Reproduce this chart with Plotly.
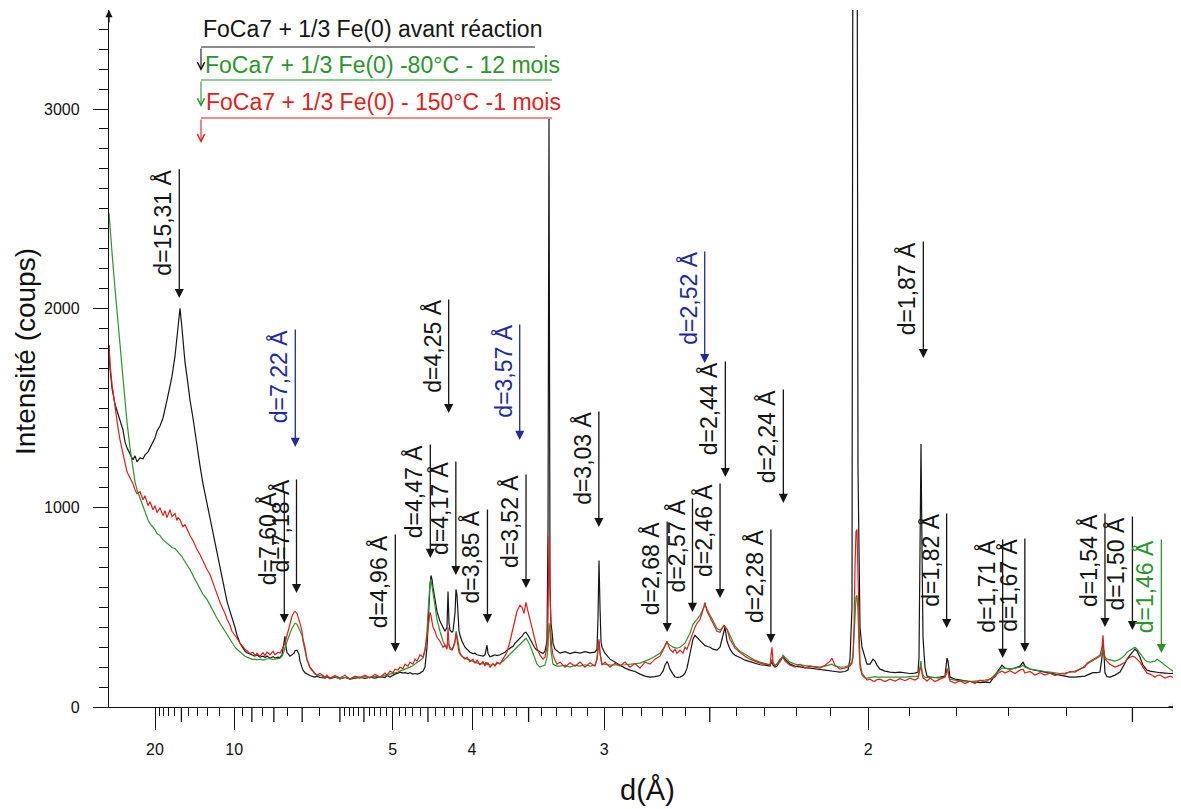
import plotly.graph_objects as go

# ---------------- data ----------------
# x = 1/d (1/Å); the axis is labelled in d (Å)
inv_d = [0.02098, 0.02161, 0.02287, 0.02476, 0.02666, 0.02792, 0.02981, 0.03107, 0.03233, 0.03423,
         0.03612, 0.03738, 0.03864, 0.04054, 0.04243, 0.04369, 0.04558, 0.04685, 0.04874, 0.05000,
         0.05126, 0.05315, 0.05505, 0.05631, 0.05757, 0.05946, 0.06073, 0.06262, 0.06388, 0.06451,
         0.06577, 0.06703, 0.06767, 0.06893, 0.07082, 0.07208, 0.07397, 0.07524, 0.07650, 0.07839,
         0.08028, 0.08281, 0.08470, 0.08659, 0.08785, 0.08912, 0.09101, 0.09290, 0.09416, 0.09543,
         0.09732, 0.09858, 0.10047, 0.10174, 0.10363, 0.10552, 0.10678, 0.10804, 0.10994, 0.11183,
         0.11309, 0.11435, 0.11625, 0.11814, 0.11940, 0.12066, 0.12256, 0.12445, 0.12571, 0.12760,
         0.12886, 0.13013, 0.13076, 0.13139, 0.13202, 0.13265, 0.13328, 0.13391, 0.13517, 0.13644,
         0.13770, 0.13833, 0.13959, 0.14085, 0.14148, 0.14274, 0.14338, 0.14464, 0.14590, 0.14779,
         0.14968, 0.15095, 0.15221, 0.15410, 0.15726, 0.15852, 0.16041, 0.16356, 0.16672, 0.16987,
         0.17303, 0.17618, 0.17934, 0.18249, 0.18565, 0.18880, 0.19196, 0.19511, 0.19637, 0.19826,
         0.20016, 0.20142, 0.20331, 0.20457, 0.20647, 0.20773, 0.20962, 0.21088, 0.21278, 0.21404,
         0.21530, 0.21719, 0.21909, 0.22035, 0.22161, 0.22224, 0.22287, 0.22350, 0.22413, 0.22476,
         0.22539, 0.22666, 0.22792, 0.22981, 0.23170, 0.23297, 0.23423, 0.23486, 0.23549, 0.23612,
         0.23738, 0.23801, 0.23927, 0.23991, 0.24054, 0.24117, 0.24180, 0.24243, 0.24369, 0.24558,
         0.24685, 0.24874, 0.25063, 0.25189, 0.25315, 0.25505, 0.25694, 0.25820, 0.25883, 0.25946,
         0.26009, 0.26136, 0.26325, 0.26451, 0.26577, 0.26767, 0.26956, 0.27082, 0.27208, 0.27397,
         0.27587, 0.27713, 0.27839, 0.28028, 0.28155, 0.28281, 0.28407, 0.28533, 0.28659, 0.28849,
         0.28975, 0.29101, 0.29290, 0.29479, 0.29606, 0.29732, 0.29795, 0.29858, 0.29921, 0.29984,
         0.30047, 0.30110, 0.30237, 0.30363, 0.30552, 0.30868, 0.31183, 0.31498, 0.31814, 0.32129,
         0.32445, 0.32760, 0.32886, 0.32950, 0.33013, 0.33076, 0.33139, 0.33202, 0.33391, 0.33707,
         0.34022, 0.34338, 0.34653, 0.34968, 0.35284, 0.35599, 0.35915, 0.36230, 0.36546, 0.36861,
         0.37050, 0.37177, 0.37303, 0.37366, 0.37492, 0.37681, 0.37808, 0.37934, 0.38123, 0.38312,
         0.38438, 0.38565, 0.38754, 0.38943, 0.39069, 0.39196, 0.39385, 0.39511, 0.39637, 0.39700,
         0.39826, 0.40016, 0.40205, 0.40331, 0.40457, 0.40647, 0.40773, 0.40899, 0.40962, 0.41088,
         0.41278, 0.41467, 0.41593, 0.41909, 0.42224, 0.42539, 0.42855, 0.43170, 0.43486, 0.43801,
         0.43927, 0.43991, 0.44117, 0.44243, 0.44432, 0.44621, 0.44748, 0.45063, 0.45379, 0.45694,
         0.46009, 0.46325, 0.46640, 0.46956, 0.47271, 0.47587, 0.47713, 0.47902, 0.48218, 0.48533,
         0.48722, 0.48849, 0.48975, 0.49038, 0.49101, 0.49164, 0.49227, 0.49290, 0.49353, 0.49416,
         0.49479, 0.49606, 0.49795, 0.49921, 0.50110, 0.50300, 0.50426, 0.50552, 0.50741, 0.51057,
         0.51372, 0.51688, 0.52003, 0.52319, 0.52634, 0.52950, 0.53139, 0.53202, 0.53265, 0.53328,
         0.53391, 0.53454, 0.53580, 0.53707, 0.53896, 0.54211, 0.54527, 0.54842, 0.54905, 0.54968,
         0.55032, 0.55095, 0.55158, 0.55473, 0.55789, 0.56104, 0.56420, 0.56735, 0.57050, 0.57366,
         0.57681, 0.57997, 0.58123, 0.58312, 0.58438, 0.58628, 0.58943, 0.59259, 0.59574, 0.59763,
         0.59890, 0.60205, 0.60521, 0.60836, 0.61151, 0.61467, 0.61782, 0.62098, 0.62413, 0.62729,
         0.63044, 0.63360, 0.63675, 0.63801, 0.63991, 0.64180, 0.64432, 0.64621, 0.64748, 0.64811,
         0.64874, 0.64937, 0.65063, 0.65252, 0.65568, 0.65883, 0.66199, 0.66325, 0.66514, 0.66703,
         0.66830, 0.66956, 0.67145, 0.67334, 0.67461, 0.67587, 0.67776, 0.68091, 0.68218, 0.68407,
         0.68722, 0.69038, 0.69353, 0.69479, 0.69543, 0.69669]

black_counts = [1815, 1700, 1600, 1520, 1470, 1440, 1390, 1330, 1300, 1270,
                1240, 1260, 1230, 1250, 1245, 1265, 1280, 1300, 1330, 1350,
                1385, 1410, 1450, 1490, 1540, 1610, 1660, 1760, 1860, 1910,
                2000, 1900, 1840, 1730, 1620, 1540, 1450, 1380, 1300, 1210,
                1120, 1020, 950, 880, 825, 770, 690, 620, 575, 530,
                480, 450, 400, 360, 320, 295, 280, 272, 265, 258,
                255, 262, 250, 255, 248, 256, 245, 252, 246, 250,
                248, 262, 290, 330, 355, 300, 272, 268, 255, 262,
                270, 282, 285, 265, 230, 200, 185, 172, 165, 158,
                152, 150, 155, 148, 145, 152, 143, 150, 142, 148,
                140, 146, 150, 143, 150, 145, 152, 148, 158, 150,
                160, 165, 170, 175, 170, 172, 168, 172, 165, 168,
                165, 170, 180, 200, 300, 420, 520, 610, 660, 640,
                600, 540, 480, 430, 400, 380, 400, 580, 420, 385,
                375, 380, 470, 590, 560, 430, 380, 360, 330, 300,
                288, 275, 268, 270, 262, 260, 255, 262, 290, 310,
                270, 252, 258, 262, 258, 262, 270, 275, 285, 295,
                305, 320, 330, 340, 355, 370, 375, 360, 340, 310,
                295, 285, 275, 268, 280, 330, 900, 2950, 600, 420,
                380, 320, 290, 282, 270, 278, 268, 275, 270, 278,
                272, 275, 290, 450, 735, 500, 330, 300, 270, 240,
                225, 210, 195, 185, 178, 165, 155, 150, 152, 158,
                180, 210, 228, 220, 190, 165, 152, 148, 150, 158,
                170, 195, 260, 340, 360, 350, 330, 320, 312, 308,
                305, 300, 290, 288, 285, 300, 335, 380, 400, 330,
                290, 268, 260, 248, 235, 228, 218, 212, 210, 205,
                230, 210, 200, 205, 230, 255, 240, 215, 205, 200,
                198, 195, 190, 188, 185, 180, 179, 178, 175, 178,
                185, 240, 500, 4500, 4500, 4500, 4500, 4500, 1200, 600,
                400, 300, 240, 215, 215, 240, 230, 210, 190, 180,
                175, 172, 175, 170, 168, 170, 175, 250, 800, 1320,
                800, 350, 200, 155, 150, 148, 150, 155, 200, 245,
                230, 170, 150, 140, 135, 130, 128, 125, 122, 125,
                122, 160, 175, 200, 210, 195, 190, 195, 205, 225,
                205, 190, 185, 180, 175, 170, 165, 160, 155, 150,
                150, 152, 155, 160, 168, 172, 172, 175, 250, 330,
                260, 170, 152, 150, 160, 175, 220, 240, 260, 280,
                290, 280, 250, 210, 195, 185, 180, 175, 174, 172,
                170, 168, 170, 200, 460, 470]

green_counts = [2480, 2400, 2280, 2100, 1950, 1820, 1650, 1530, 1430, 1300,
                1200, 1130, 1090, 1050, 1010, 975, 940, 920, 905, 890,
                870, 860, 840, 830, 822, 810, 800, 795, 785, 780,
                770, 755, 745, 730, 705, 690, 660, 640, 620, 590,
                565, 540, 510, 480, 460, 445, 420, 395, 380, 365,
                340, 320, 300, 290, 275, 262, 255, 250, 242, 238,
                240, 236, 240, 235, 238, 242, 242, 238, 240, 242,
                245, 255, 265, 280, 300, 315, 330, 350, 370, 395,
                410, 420, 415, 395, 380, 360, 330, 280, 235, 195,
                175, 165, 162, 158, 150, 155, 148, 152, 140, 150,
                142, 148, 145, 152, 148, 155, 150, 160, 158, 165,
                168, 172, 175, 180, 185, 190, 195, 200, 208, 215,
                220, 230, 245, 280, 380, 470, 560, 620, 640, 610,
                570, 500, 440, 380, 330, 310, 300, 320, 305, 300,
                290, 295, 320, 380, 360, 320, 290, 270, 255, 245,
                240, 235, 230, 225, 222, 215, 218, 215, 218, 222,
                215, 210, 212, 215, 218, 220, 230, 240, 250, 265,
                280, 290, 300, 310, 325, 335, 345, 330, 310, 270,
                240, 215, 200, 205, 210, 250, 300, 420, 380, 280,
                230, 215, 210, 205, 205, 210, 200, 210, 205, 212,
                205, 210, 240, 300, 330, 270, 230, 215, 215, 210,
                212, 210, 212, 215, 218, 220, 230, 240, 255, 270,
                290, 310, 325, 318, 310, 300, 298, 295, 300, 310,
                320, 340, 370, 415, 425, 440, 460, 480, 500, 510,
                490, 460, 430, 410, 395, 385, 395, 410, 405, 390,
                360, 325, 305, 280, 265, 250, 235, 225, 220, 212,
                240, 220, 210, 215, 225, 260, 250, 225, 215, 210,
                208, 205, 202, 200, 205, 210, 215, 205, 200, 202,
                205, 210, 230, 260, 350, 480, 550, 560, 480, 300,
                200, 160, 145, 145, 148, 150, 152, 150, 150, 148,
                148, 150, 150, 150, 152, 152, 155, 170, 200, 230,
                180, 160, 150, 148, 150, 148, 145, 150, 165, 195,
                180, 150, 140, 135, 130, 130, 128, 130, 132, 135,
                140, 165, 175, 190, 195, 195, 190, 195, 200, 210,
                200, 190, 185, 180, 178, 175, 170, 168, 170, 175,
                180, 190, 205, 215, 225, 235, 245, 255, 270, 300,
                265, 250, 240, 235, 230, 240, 260, 275, 285, 295,
                300, 290, 270, 250, 235, 228, 225, 230, 240, 230,
                210, 190, 175, 172, 170, 170]

red_counts = [1815, 1720, 1620, 1500, 1400, 1340, 1270, 1220, 1180, 1150,
              1120, 1090, 1070, 1080, 1040, 1060, 1010, 1030, 990, 1010,
              975, 1000, 960, 985, 950, 990, 955, 970, 935, 950,
              940, 915, 905, 915, 880, 860, 835, 810, 790, 765,
              730, 690, 665, 620, 600, 560, 525, 490, 470, 440,
              410, 380, 360, 345, 320, 300, 290, 282, 268, 275,
              258, 270, 255, 272, 258, 276, 262, 280, 262, 275,
              270, 290, 300, 310, 320, 340, 360, 390, 430, 455,
              475, 480, 470, 440, 420, 380, 340, 300, 240, 200,
              180, 170, 160, 168, 150, 160, 142, 158, 145, 160,
              140, 155, 148, 160, 145, 165, 150, 170, 160, 180,
              172, 190, 185, 200, 192, 215, 205, 225, 215, 240,
              230, 262, 250, 290, 350, 400, 440, 475, 460, 430,
              400, 380, 350, 330, 300, 310, 290, 400, 310, 290,
              285, 300, 330, 370, 340, 300, 275, 265, 255, 240,
              250, 228, 240, 220, 235, 212, 228, 205, 225, 210,
              222, 200, 218, 205, 225, 215, 240, 255, 275, 330,
              400, 440, 480, 510, 500, 470, 525, 480, 440, 380,
              330, 295, 260, 240, 250, 300, 450, 860, 600, 350,
              290, 260, 235, 215, 225, 200, 222, 205, 225, 200,
              222, 205, 240, 290, 340, 270, 230, 210, 225, 200,
              220, 205, 225, 200, 218, 195, 225, 215, 240, 255,
              285, 310, 330, 315, 290, 275, 290, 270, 285, 270,
              300, 290, 330, 380, 400, 420, 440, 470, 500, 525,
              480, 450, 420, 400, 380, 375, 395, 410, 400, 390,
              340, 310, 295, 275, 255, 240, 230, 220, 215, 210,
              300, 225, 205, 215, 240, 250, 230, 210, 200, 215,
              195, 205, 200, 195, 210, 230, 245, 210, 190, 195,
              200, 205, 220, 250, 400, 700, 880, 890, 700, 400,
              220, 170, 145, 135, 140, 130, 130, 138, 140, 128,
              140, 130, 142, 132, 145, 135, 145, 170, 190, 200,
              160, 145, 140, 130, 145, 128, 140, 150, 165, 190,
              175, 140, 130, 120, 132, 118, 130, 118, 135, 125,
              140, 150, 165, 175, 180, 170, 182, 168, 185, 190,
              170, 178, 160, 172, 160, 170, 158, 168, 165, 178,
              175, 190, 200, 220, 230, 240, 250, 260, 300, 360,
              280, 240, 230, 215, 200, 210, 225, 240, 250, 255,
              250, 240, 225, 200, 185, 170, 165, 150, 158, 160,
              145, 155, 145, 150, 145, 150]

series_labels = ["FoCa7 + 1/3 Fe(0) avant réaction",
                 "FoCa7 + 1/3 Fe(0) -80°C - 12 mois",
                 "FoCa7 + 1/3 Fe(0) - 150°C -1 mois"]

# d-axis ticks (Å)
major_d = [20, 10, 5, 4, 3, 2]
major_text = ["20", "10", "5", "4", "3", "2"]
medium_d = [15, 9, 8, 7, 6, 5.5, 4.5, 3.5, 2.5, 1.5]
minor_d = [19, 18, 17, 16, 14, 13, 12, 11, 9.5, 8.5, 7.5, 6.5,
           5.9, 5.8, 5.7, 5.6, 5.4, 5.3, 5.2, 5.1,
           4.9, 4.8, 4.7, 4.6, 4.4, 4.3, 4.2, 4.1,
           3.9, 3.8, 3.7, 3.6, 3.4, 3.3, 3.2, 3.1,
           2.9, 2.8, 2.7, 2.6, 2.4, 2.3, 2.2, 2.1,
           1.9, 1.8, 1.7, 1.6]

# peak markers: label, d (Å), colour key
peak_labels = ["d=15,31 Å", "d=7,60 Å", "d=7,18 Å", "d=7,22 Å", "d=4,96 Å", "d=4,47 Å",
               "d=4,25 Å", "d=4,17 Å", "d=3,85 Å", "d=3,57 Å", "d=3,52 Å", "d=3,03 Å",
               "d=2,68 Å", "d=2,57 Å", "d=2,52 Å", "d=2,46 Å", "d=2,44 Å", "d=2,28 Å",
               "d=2,24 Å", "d=1,87 Å", "d=1,82 Å", "d=1,71 Å", "d=1,67 Å", "d=1,54 Å",
               "d=1,50 Å", "d=1,46 Å"]
peak_d = [15.31, 7.60, 7.18, 7.22, 4.96, 4.47, 4.25, 4.17, 3.85, 3.57, 3.52, 3.03,
          2.68, 2.57, 2.52, 2.46, 2.44, 2.28, 2.24, 1.87, 1.82, 1.71, 1.67, 1.54, 1.50, 1.46]
peak_kind = ["k", "k", "k", "b", "k", "k", "k", "k", "k", "b", "k", "k",
             "k", "k", "b", "k", "k", "k", "k", "k", "k", "k", "k", "k", "k", "g"]

# ---------------- layout / styling ----------------
OFF = 8                      # page body margin of the html page
W, H = 1173, 801
ML, MR, MT, MB = 101, 0, 2, 102
PW, PH = W - ML - MR, H - MT - MB
Y_MAX = 3497
X_RANGE = [0.02098, 0.69732]
FONT = "Liberation Sans, Arial, sans-serif"
COL = {"k": "#151515", "g": "#2a952c", "r": "#e11f1c", "b": "#1f2b9c"}
curve_colors = [COL["k"], COL["g"], COL["r"]]

# arrow placement (top of text/arrow, arrow tip) in counts, same order as peaks
arrow_top = [2705, 1089, 1149, 1902, 873, 1325, 2052, 1239, 998, 1927, 1174, 1490,
             938, 1054, 2293, 1129, 1741, 898, 1601, 2343, 978, 848, 853, 978, 963, 848]
arrow_tip = [2052, 421, 572, 1305, 276, 748, 1475, 662, 421, 1340, 597, 903,
             376, 477, 1726, 547, 1154, 321, 1024, 1751, 396, 246, 276, 401, 386, 271]


def px_x(X):
    """screen pixel x -> paper fraction"""
    return (X - OFF - ML) / PW


def px_y(Y):
    """screen pixel y -> paper fraction"""
    return (OFF + H - MB - Y) / PH


fig = go.Figure()
for counts, name, col in zip([black_counts, green_counts, red_counts], series_labels, curve_colors):
    fig.add_trace(go.Scatter(x=inv_d, y=counts, mode="lines", name=name,
                             line=dict(color=col, width=1.2), showlegend=False,
                             hoverinfo="skip"))

annotations = []
shapes = []

# peak arrows + rotated labels
for lab, d, kind, top, tip in zip(peak_labels, peak_d, peak_kind, arrow_top, arrow_tip):
    c = COL[kind]
    annotations.append(dict(x=1 / d, y=tip, ax=1 / d, ay=top, xref="x", yref="y",
                            axref="x", ayref="y", text="", showarrow=True,
                            arrowhead=2, arrowsize=1.4, arrowwidth=1.3, arrowcolor=c,
                            standoff=0, startstandoff=0))
    annotations.append(dict(x=1 / d, y=top, xref="x", yref="y", text=lab, showarrow=False,
                            textangle=-90, xanchor="right", yanchor="top", xshift=-1,
                            font=dict(family=FONT, size=23, color=c)))

# legend block (text over a line with a small down arrow)
leg_text_pos = [(201, 29), (203, 65), (204, 102)]
leg_line = [(201, 535, 47), (201, 552, 80), (201, 552, 118)]
leg_arrow_len = [24, 27, 25]
for lab, col, (tx, ty), (lx0, lx1, ly), alen in zip(series_labels, curve_colors, leg_text_pos,
                                                    leg_line, leg_arrow_len):
    annotations.append(dict(x=px_x(tx), y=px_y(ty), xref="paper", yref="paper", text=lab,
                            showarrow=False, xanchor="left", yanchor="middle",
                            font=dict(family=FONT, size=23, color=col)))
    shapes.append(dict(type="line", xref="paper", yref="paper", x0=px_x(lx0), x1=px_x(lx1),
                       y0=px_y(ly), y1=px_y(ly), line=dict(color=col, width=1.2)))
    annotations.append(dict(x=px_x(lx0), y=px_y(ly + alen), xref="paper", yref="paper",
                            ax=0, ay=-alen, text="", showarrow=True, arrowhead=5,
                            arrowsize=1.3, arrowwidth=1.1, arrowcolor=col, standoff=0))

# medium-length d ticks
for d in medium_d:
    shapes.append(dict(type="line", xref="x", yref="paper", x0=1 / d, x1=1 / d,
                       y0=0, y1=-15 / PH, line=dict(color="#111", width=1.3)))

# axis arrows
annotations.append(dict(x=1, y=0, xref="paper", yref="paper", ax=-14, ay=0, text="",
                        showarrow=True, arrowhead=2, arrowsize=1.1, arrowwidth=1.3,
                        arrowcolor="#111", standoff=0))
annotations.append(dict(x=0, y=1, xref="paper", yref="paper", ax=0, ay=14, text="",
                        showarrow=True, arrowhead=2, arrowsize=1.1, arrowwidth=1.3,
                        arrowcolor="#111", standoff=0))

# axis titles
annotations.append(dict(x=px_x(25), y=px_y(352), xref="paper", yref="paper",
                        text="Intensité (coups)", showarrow=False, textangle=-90,
                        xanchor="center", yanchor="middle",
                        font=dict(family=FONT, size=28, color="#111")))
annotations.append(dict(x=px_x(647), y=px_y(790), xref="paper", yref="paper",
                        text="d(Å)", showarrow=False, xanchor="center", yanchor="middle",
                        font=dict(family=FONT, size=29, color="#111")))

fig.update_layout(
    width=W, height=H,
    margin=dict(l=ML, r=MR, t=MT, b=MB, pad=0),
    paper_bgcolor="white", plot_bgcolor="white",
    font=dict(family=FONT, size=16, color="#111"),
    showlegend=False,
    annotations=annotations,
    shapes=shapes,
    xaxis=dict(range=X_RANGE, showgrid=False, zeroline=False, showline=True,
               linecolor="#111", linewidth=1.3,
               tickmode="array", tickvals=[1 / d for d in major_d], ticktext=major_text,
               ticks="outside", ticklen=22, tickwidth=1.4, tickcolor="#111",
               ticklabelstandoff=6,
               tickfont=dict(family=FONT, size=16, color="#111"),
               minor=dict(tickmode="array", tickvals=[1 / d for d in minor_d],
                          ticks="outside", ticklen=8, tickwidth=1.2, tickcolor="#111",
                          showgrid=False)),
    yaxis=dict(range=[0, Y_MAX], showgrid=False, zeroline=False, showline=True,
               linecolor="#111", linewidth=1.3,
               tickmode="array", tickvals=[0, 1000, 2000, 3000],
               ticks="outside", ticklen=15, tickwidth=1.3, tickcolor="#111",
               ticklabelstandoff=10,
               tickfont=dict(family=FONT, size=16, color="#111"),
               minor=dict(dtick=100, ticks="outside", ticklen=9, tickwidth=1.1,
                          tickcolor="#111", showgrid=False)),
)

fig.write_html("out.html", config={"displayModeBar": False})
